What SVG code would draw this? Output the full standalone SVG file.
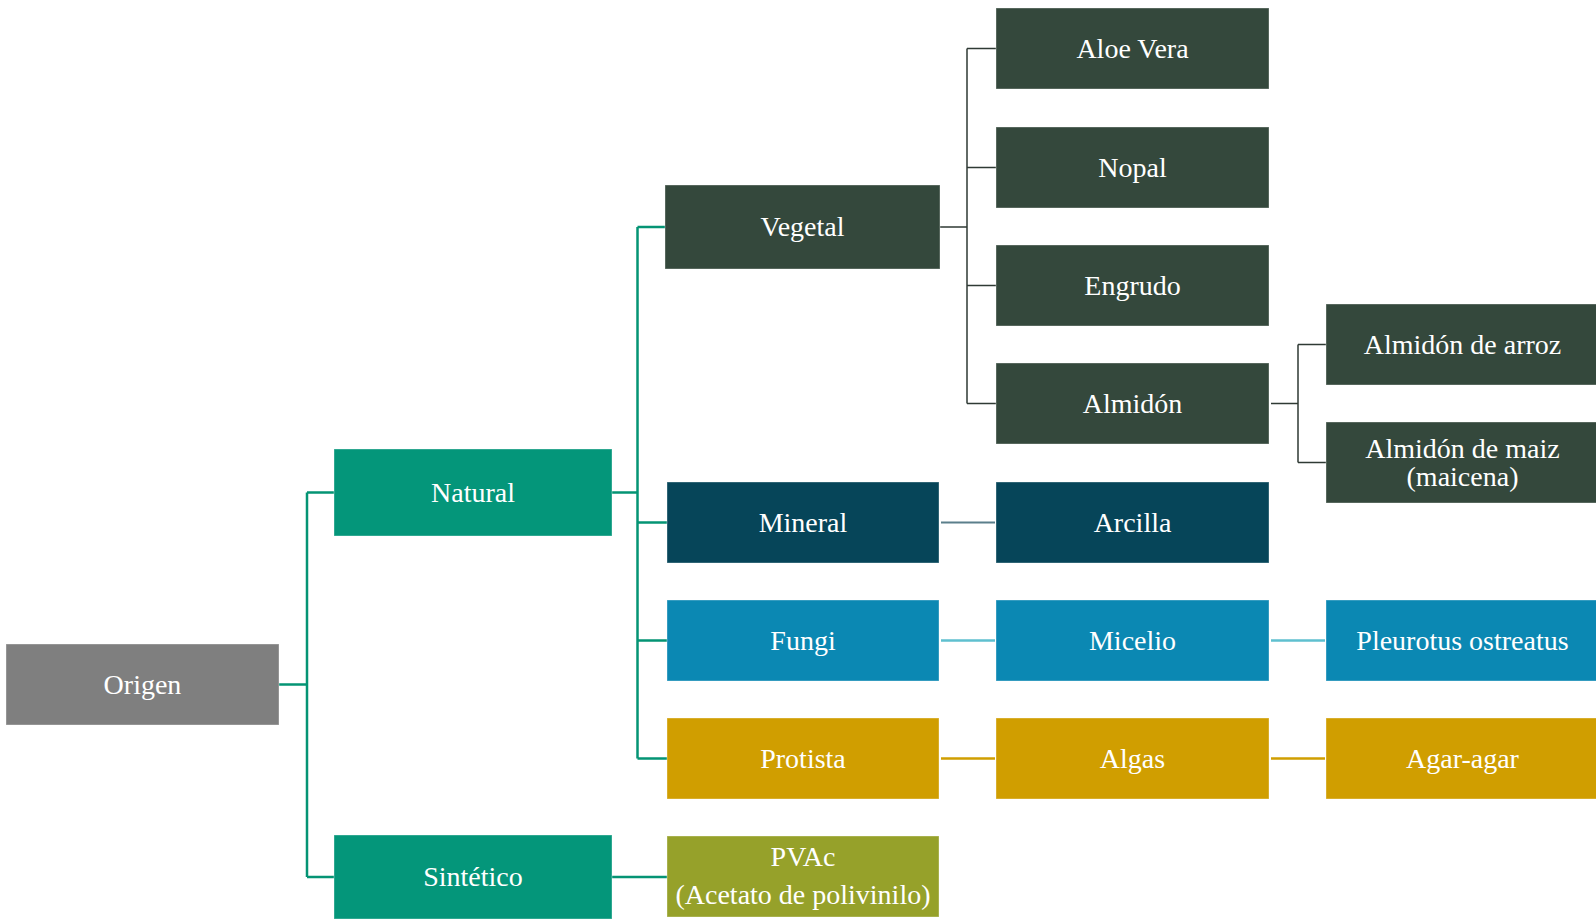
<svg xmlns="http://www.w3.org/2000/svg" width="1596" height="923" viewBox="0 0 1596 923">
<style>
.box{stroke:#ffffff;stroke-opacity:0.35;stroke-width:1}
.t{font-family:"Liberation Serif","Times New Roman",serif;font-size:28px;fill:#ffffff;text-anchor:middle}
.gray{fill:#7f7f7f}
.green{fill:#04967a}
.dark{fill:#34483c}
.navy{fill:#064559}
.blue{fill:#0b88b3}
.gold{fill:#d09e00}
.olive{fill:#96a12a}
.c{fill:none}
.cg{stroke:#049474;stroke-width:2.5}
.cd{stroke:#2f3a34;stroke-width:1.5}
.cn{stroke:#5b7f8b;stroke-width:2}
.cb{stroke:#5fc0cf;stroke-width:2.5}
.cy{stroke:#d09e00;stroke-width:2.5}
</style>
<rect width="1596" height="923" fill="#ffffff"/>
<g id="connectors" class="c">
<path class="cg" d="M279,684.5 H307 M307,492.5 V877 M307,492.5 H334 M307,877 H334"/>
<path class="cg" d="M612,492.5 H637.5 M637.5,227 V758.5 M637.5,227 H665 M637.5,522.5 H667 M637.5,640.5 H667 M637.5,758.5 H667"/>
<path class="cg" d="M612,877 H667"/>
<path class="cd" d="M940,227 H967 M967,48.5 V403.5 M967,48.5 H996 M967,167.5 H996 M967,285.5 H996 M967,403.5 H996"/>
<path class="cd" d="M1271,403.5 H1298 M1298,344.5 V462.5 M1298,344.5 H1326 M1298,462.5 H1326"/>
<path class="cn" d="M941,522.5 H995"/>
<path class="cb" d="M941,640.5 H995 M1271,640.5 H1325"/>
<path class="cy" d="M941,758.5 H995 M1271,758.5 H1325"/>
</g>
<g id="origen"><rect class="box gray" x="6" y="644" width="273" height="81"/><text class="t" x="142.5" y="694">Origen</text></g>
<g id="natural"><rect class="box green" x="334" y="449" width="278" height="87"/><text class="t" x="473" y="502">Natural</text></g>
<g id="sintetico"><rect class="box green" x="334" y="835" width="278" height="84"/><text class="t" x="473" y="886">Sintético</text></g>
<g id="vegetal"><rect class="box dark" x="665" y="185" width="275" height="84"/><text class="t" x="802.5" y="236">Vegetal</text></g>
<g id="mineral"><rect class="box navy" x="667" y="482" width="272" height="81"/><text class="t" x="803" y="532">Mineral</text></g>
<g id="fungi"><rect class="box blue" x="667" y="600" width="272" height="81"/><text class="t" x="803" y="650">Fungi</text></g>
<g id="protista"><rect class="box gold" x="667" y="718" width="272" height="81"/><text class="t" x="803" y="768">Protista</text></g>
<g id="pvac"><rect class="box olive" x="667" y="836" width="272" height="81"/><text class="t" x="803" y="866">PVAc</text><text class="t" x="803" y="904">(Acetato de polivinilo)</text></g>
<g id="aloe"><rect class="box dark" x="996" y="8" width="273" height="81"/><text class="t" x="1132.5" y="58">Aloe Vera</text></g>
<g id="nopal"><rect class="box dark" x="996" y="127" width="273" height="81"/><text class="t" x="1132.5" y="177">Nopal</text></g>
<g id="engrudo"><rect class="box dark" x="996" y="245" width="273" height="81"/><text class="t" x="1132.5" y="295">Engrudo</text></g>
<g id="almidon"><rect class="box dark" x="996" y="363" width="273" height="81"/><text class="t" x="1132.5" y="413">Almidón</text></g>
<g id="arcilla"><rect class="box navy" x="996" y="482" width="273" height="81"/><text class="t" x="1132.5" y="532">Arcilla</text></g>
<g id="micelio"><rect class="box blue" x="996" y="600" width="273" height="81"/><text class="t" x="1132.5" y="650">Micelio</text></g>
<g id="algas"><rect class="box gold" x="996" y="718" width="273" height="81"/><text class="t" x="1132.5" y="768">Algas</text></g>
<g id="almidon-arroz"><rect class="box dark" x="1326" y="304" width="273" height="81"/><text class="t" x="1462.5" y="354">Almidón de arroz</text></g>
<g id="almidon-maiz"><rect class="box dark" x="1326" y="422" width="273" height="81"/><text class="t" x="1462.5" y="458">Almidón de maiz</text><text class="t" x="1462.5" y="486">(maicena)</text></g>
<g id="pleurotus"><rect class="box blue" x="1326" y="600" width="273" height="81"/><text class="t" x="1462.5" y="650">Pleurotus ostreatus</text></g>
<g id="agar"><rect class="box gold" x="1326" y="718" width="273" height="81"/><text class="t" x="1462.5" y="768">Agar-agar</text></g>
</svg>
